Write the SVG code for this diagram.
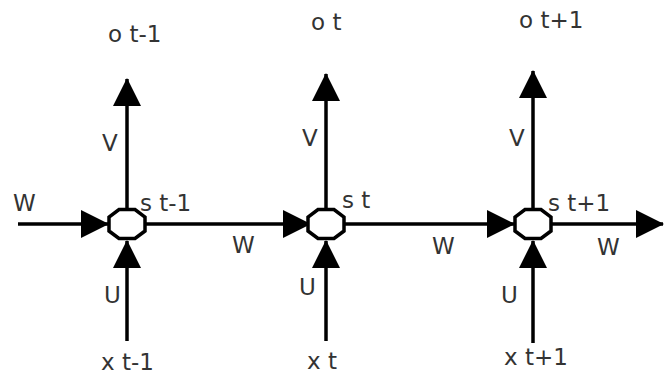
<svg xmlns="http://www.w3.org/2000/svg" width="669" height="377" viewBox="0 0 669 377">
<style>
.lbl{font-family:"DejaVu Sans","Verdana",sans-serif;font-size:23px;fill:#333}
.edge{stroke:#000;stroke-width:3.5;fill:none;marker-end:url(#ah)}
.node{fill:#fff;stroke:#000;stroke-width:3.5}
</style>
<defs>
<marker id="ah" viewBox="0 0 28 28" refX="27" refY="14" markerWidth="28" markerHeight="28" markerUnits="userSpaceOnUse" orient="auto">
<path d="M0,0 L28,14 L0,28 z" fill="#000"/>
</marker>
</defs>
<rect width="669" height="377" fill="#fff"/>
<g id="connectors">
<path class="edge" d="M18,224 L108,224"/>
<path class="edge" d="M145,224 L310,224"/>
<path class="edge" d="M344,224 L514,224"/>
<path class="edge" d="M551,224 L663,224"/>
<path class="edge" d="M127,210 L127,79"/>
<path class="edge" d="M326,210 L326,74"/>
<path class="edge" d="M533,210 L533,71"/>
<path class="edge" d="M127,341 L127,241"/>
<path class="edge" d="M326,341 L326,241"/>
<path class="edge" d="M533,343 L533,241"/>
</g>
<g id="node-st-1">
<polygon class="node" points="119,209.5 135,209.5 145,217 145,231 135,238.5 119,238.5 109,231 109,217"/>
<text class="lbl" x="140" y="211">s t-1</text>
</g>
<g id="node-st">
<polygon class="node" points="318,209.5 334,209.5 344,217 344,231 334,238.5 318,238.5 308,231 308,217"/>
<text class="lbl" x="342" y="208">s t</text>
</g>
<g id="node-st1">
<polygon class="node" points="525,209.5 541,209.5 551,217 551,231 541,238.5 525,238.5 515,231 515,217"/>
<text class="lbl" x="548" y="211">s t+1</text>
</g>
<g id="out-ot-1"><text class="lbl" x="108" y="42">o t-1</text></g>
<g id="out-ot"><text class="lbl" x="311" y="30">o t</text></g>
<g id="out-ot1"><text class="lbl" x="519" y="28">o t+1</text></g>
<g id="in-xt-1"><text class="lbl" x="101" y="370">x t-1</text></g>
<g id="in-xt"><text class="lbl" x="307" y="369">x t</text></g>
<g id="in-xt1"><text class="lbl" x="504" y="365">x t+1</text></g>
<g id="edge-labels">
<text class="lbl" x="102" y="151">V</text>
<text class="lbl" x="302" y="146">V</text>
<text class="lbl" x="509" y="146">V</text>
<text class="lbl" x="104" y="303">U</text>
<text class="lbl" x="299" y="295">U</text>
<text class="lbl" x="501" y="303">U</text>
<text class="lbl" x="13" y="211">W</text>
<text class="lbl" x="232" y="253">W</text>
<text class="lbl" x="432" y="254">W</text>
<text class="lbl" x="597" y="255">W</text>
</g>
</svg>
